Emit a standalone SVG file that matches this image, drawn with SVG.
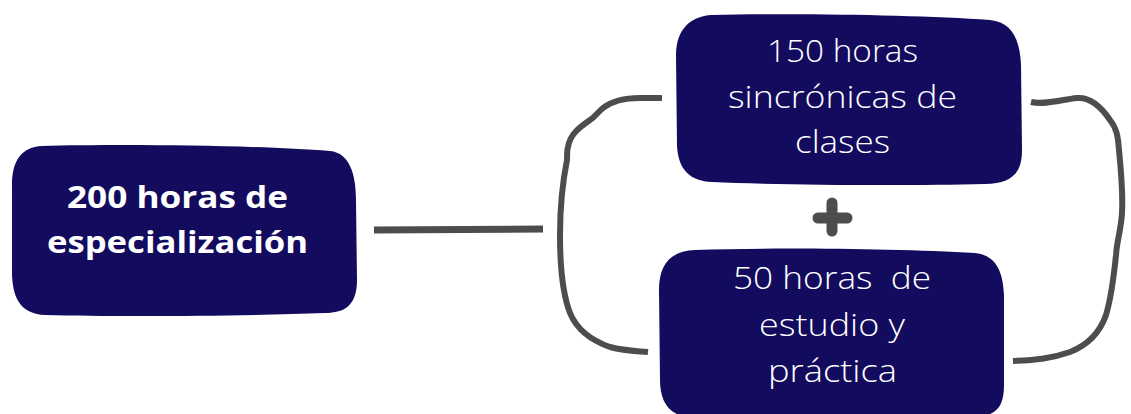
<svg xmlns="http://www.w3.org/2000/svg" width="1131" height="414" viewBox="0 0 1131 414">
  <style>
    .box { fill: #130b5d; }
    .bold { font-family: "Open Sans", "Liberation Sans", sans-serif; font-weight: 700; font-size: 31px; fill: #ffffff; text-anchor: middle; }
    .light { font-family: "Open Sans", "Liberation Sans", sans-serif; font-weight: 300; font-size: 32px; fill: #ffffff; text-anchor: middle; }
    .wire { fill: none; stroke: #4d4d4d; stroke-width: 6; stroke-linecap: butt; stroke-linejoin: round; }
    .plus { fill: none; stroke: #4d4d4d; stroke-width: 11; stroke-linecap: round; }
  </style>
  <rect width="1131" height="414" fill="#ffffff"/>

  <g id="connectors">
    <path class="wire" d="M374,230 L543,229" style="stroke-width:7"/>
    <path class="wire" d="M662,98 L640,98 C625,98 612,101 603,108 C597,113 595,117 590,120 C580,127 570,134 568,147 C567,150 567,155 567,160 C562,185 560,205 560,235 C560,270 563,295 570,313 C577,330 590,340 610,347 C625,351 638,351 648,352"/>
    <path class="wire" d="M1031,102 C1045,105 1060,100 1077,98 C1090,97 1100,105 1110,120 C1118,130 1118,140 1119,150 C1121,170 1123,195 1122,213 C1121,230 1117,240 1116,255 C1114,275 1112,295 1106,315 C1100,332 1088,345 1070,352 C1050,359 1035,360 1013,361"/>
  </g>

  <g id="plus">
    <path class="plus" d="M818,218 L847,218 M832,203 L832,231"/>
  </g>

  <g id="node-total">
    <path class="box" d="M42,146 C120,144 250,145 330,151 C350,153 356,175 356,200 L357,280 C357,305 345,313 325,313 C250,316 120,317 45,315 C22,314 13,300 12,275 L12,185 C12,160 22,147 42,146 Z"/>
    <text class="bold" x="177.5" y="208" textLength="221" lengthAdjust="spacingAndGlyphs">200 horas de</text>
    <text class="bold" x="177.5" y="253" textLength="261" lengthAdjust="spacingAndGlyphs">especialización</text>
  </g>

  <g id="node-sincronicas">
    <path class="box" d="M712,15 C800,13 920,15 990,20 C1012,22 1020,40 1021,65 L1022,150 C1022,175 1010,183 985,184 C900,186 780,185 712,182 C690,181 678,170 677,145 L676,55 C676,30 690,16 712,15 Z"/>
    <text class="light" x="842.5" y="62" textLength="151" lengthAdjust="spacingAndGlyphs">150 horas</text>
    <text class="light" x="842.5" y="108" textLength="229" lengthAdjust="spacingAndGlyphs">sincrónicas de</text>
    <text class="light" x="842.5" y="153" textLength="95" lengthAdjust="spacingAndGlyphs">clases</text>
  </g>

  <g id="node-estudio">
    <path class="box" d="M695,250 C780,247 900,249 975,253 C995,255 1003,270 1004,295 L1004,385 C1004,405 998,416 975,417 L690,417 C668,416 660,400 660,380 L659,290 C659,265 670,251 695,250 Z"/>
    <text class="light" x="832" y="289" textLength="198" lengthAdjust="spacingAndGlyphs" xml:space="preserve">50 horas  de</text>
    <text class="light" x="832" y="336" textLength="146" lengthAdjust="spacingAndGlyphs">estudio y</text>
    <text class="light" x="832.5" y="382" textLength="129" lengthAdjust="spacingAndGlyphs">práctica</text>
  </g>
</svg>
